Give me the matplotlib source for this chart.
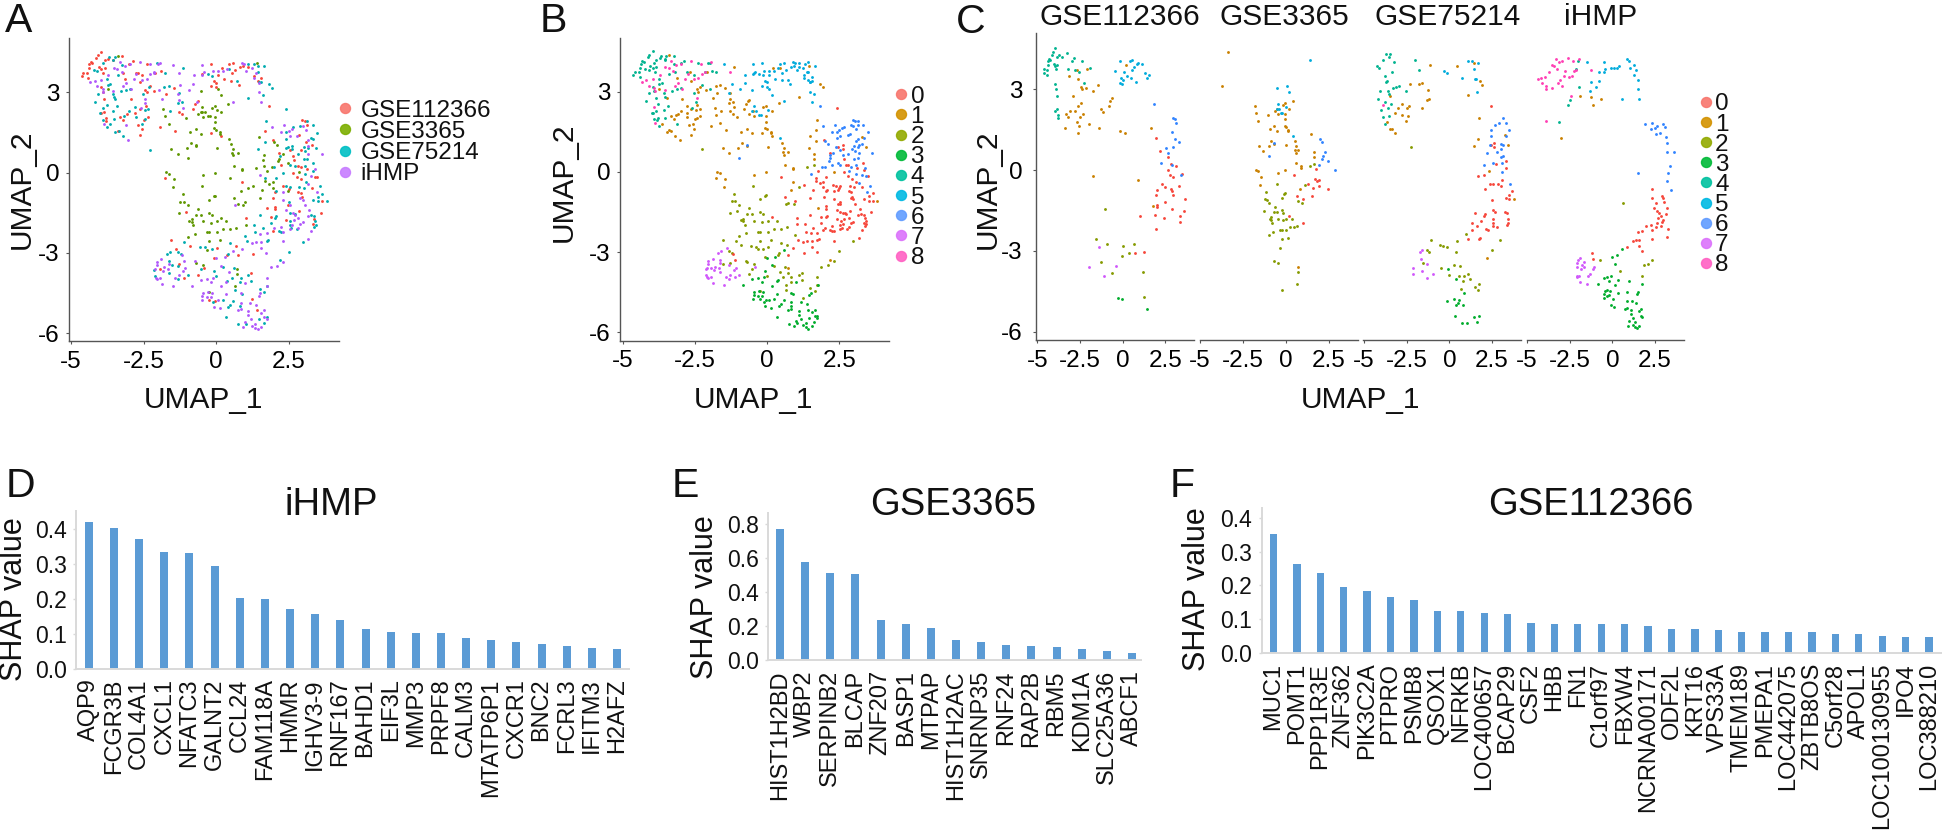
import numpy as np
import matplotlib
matplotlib.use('Agg')
import matplotlib.pyplot as plt

plt.rcParams['font.family'] = ['Liberation Sans', 'DejaVu Sans']

# UMAP points, one list per dataset and cluster
GSE112366_0 = [(1.97,1.21),(2.17,0.72),(2.68,0.47),(2.81,0.24),(3.13,0.14),(2.66,0.00),(2.79,-0.17),(2.93,-0.26),(3.48,-0.16),
    (2.29,-0.50),(2.50,-0.62),(3.30,-0.58),(2.83,-0.71),(2.03,-0.73),(2.91,-0.76),(1.97,-0.94),(2.95,-0.93),(3.65,-1.08),
    (2.46,-1.20),(2.03,-1.29),(2.03,-1.38),(2.87,-1.45),(3.61,-1.51),(1.88,-1.67),(2.42,-1.77),(3.38,-1.72),(3.34,-1.91),
    (1.95,-2.18),(1.04,-1.71),(0.74,-3.09),(1.27,-3.05)]
GSE112366_1 = [(-2.09,3.74),(-2.68,3.72),(-3.13,3.51),(-2.62,3.40),(-1.46,3.15),(-2.44,3.10),(-2.38,3.00),(-2.13,3.06),(-1.74,2.95),
    (-2.93,2.74),(-0.64,2.69),(-0.74,2.55),(-2.42,2.49),(-2.62,2.37),(-0.80,2.37),(-1.27,2.26),(-1.17,2.17),(-2.79,2.21),
    (-3.07,2.18),(-3.32,2.08),(-2.34,2.09),(-3.22,1.98),(-2.48,1.97),(-2.70,1.77),(-1.95,1.72),(-2.54,1.62),(-3.38,1.57),
    (-1.41,1.56),(-2.62,1.39),(-0.16,1.47),(0.16,1.36),(-1.76,-0.22),(0.90,-0.37),(0.21,3.89),(1.68,1.55),(1.76,-1.34)]
GSE112366_2 = [(-1.05,-1.46),(-1.54,-2.54),(-0.90,-2.75),(0.68,-2.75),(0.02,-2.81),(0.37,-3.09),(-0.06,-3.20),(-1.27,-3.42),
    (-0.61,-3.82),(1.21,-3.77),(1.25,-4.72)]
GSE112366_3 = [(-0.25,-4.75),(-0.04,-4.80),(1.41,-5.15)]
GSE112366_4 = [(-3.96,4.52),(-4.08,4.39),(-3.24,4.34),(-4.14,4.29),(-3.71,4.26),(-3.55,4.19),(-3.83,4.20),(-2.87,4.16),(-2.99,4.06),
    (-4.26,4.10),(-4.38,4.05),(-4.32,4.13),(-2.38,4.06),(-4.04,3.95),(-3.83,3.92),(-4.39,3.90),(-3.95,3.87),(-3.89,3.74),
    (-3.20,3.74),(-4.59,3.74),(-4.45,3.73),(-4.63,3.61),(-4.41,3.54),(-2.77,3.72),(-2.54,3.64),(-1.91,3.78),(-2.27,3.25),
    (-3.95,3.18),(-3.91,3.01),(-3.85,2.75),(-3.85,2.27),(-3.95,2.21),(-3.79,2.03),(-3.81,1.93)]
GSE112366_5 = [(-0.18,4.06),(0.57,4.08),(0.45,4.05),(0.92,3.98),(1.11,3.93),(0.82,3.93),(0.66,3.82),(0.53,3.71),(-0.47,3.69),
    (0.06,3.63),(1.29,3.61),(1.54,3.54),(0.27,3.48),(1.43,3.42),(-0.08,3.41),(0.51,3.42),(0.00,3.36),(0.78,3.27),(-0.16,3.22),(-0.02,3.18)]
GSE112366_6 = [(1.82,2.47),(2.97,1.95),(3.05,1.91),(3.14,1.76),(2.87,1.41),(3.09,1.14),(3.30,1.03),(2.54,0.83),(2.93,0.84),
    (2.64,0.62),(2.25,0.27),(2.91,0.19),(3.42,-0.17)]
GSE112366_7 = [(-1.39,-2.86),(-1.95,-3.61),(-0.41,-3.56),(-1.11,-3.93)]

GSE3365_0 = [(0.49,-0.19),(1.76,0.05),(1.70,-0.33),(1.95,-0.36),(1.82,-0.42),(1.27,-0.50),(1.58,-0.67),(1.95,-0.58),(2.46,-0.69),
    (0.63,-0.95),(1.50,-0.97),(0.98,-1.09),(0.16,-1.69),(1.02,-1.96)]
GSE3365_1 = [(-3.38,4.37),(-3.73,3.11),(-1.82,2.39),(-1.76,2.13),(-1.62,1.82),(-1.04,2.04),(-0.49,2.27),(-0.64,2.18),(-0.04,2.48),
    (-0.14,2.43),(0.41,2.58),(0.18,2.28),(-0.04,2.08),(-0.45,2.09),(-0.04,1.88),(-0.06,1.65),(0.00,1.60),(-0.70,1.62),(-0.90,1.51),
    (-0.51,1.44),(0.14,1.50),(0.14,1.45),(-0.86,1.09),(0.04,0.93),(-1.54,0.88),(-1.00,0.90),(-0.70,0.98),(-1.33,0.71),(0.51,1.07),
    (0.57,0.89),(0.55,0.73),(0.74,0.73),(0.57,0.64),(1.48,1.34),(1.64,0.67),(1.62,0.48),(0.61,0.26),(0.90,0.15),(0.90,0.09),
    (-0.45,-0.11),(-0.04,-0.01),(-1.72,0.01),(-1.64,-0.04),(-1.45,-0.25),(-1.50,-0.55),(0.84,-0.69),(0.72,-3.61)]
GSE3365_2 = [(1.39,0.17),(1.64,0.24),(1.11,-0.56),(-1.13,-0.81),(-1.23,-1.09),(-1.11,-1.10),(-0.98,-1.23),(-0.04,-0.86),(-0.08,-0.89),
    (-0.25,-1.03),(-0.49,-0.52),(0.74,-1.16),(0.94,-1.21),(-1.29,-1.52),(-0.64,-1.36),(-0.25,-1.50),(-0.14,-1.59),(-0.70,-1.57),
    (-0.51,-1.57),(-0.84,-1.75),(-0.92,-1.80),(-0.84,-1.85),(-0.78,-1.97),(-0.45,-1.82),(-0.16,-1.87),(0.04,-1.82),(0.35,-1.83),
    (0.23,-2.12),(0.49,-2.13),(0.68,-2.06),(-0.98,-2.40),(-0.74,-2.29),(-0.25,-2.24),(-0.33,-2.24),(0.04,-2.24),(-0.23,-2.57),
    (0.14,-2.53),(-0.31,-2.89),(-0.70,-3.37),(-0.45,-3.44),(0.72,-3.79),(0.64,-4.24),(-0.25,-4.45)]
GSE3365_5 = [(1.41,4.10),(-0.51,3.06),(0.08,3.11),(0.16,2.89),(-0.47,2.45),(0.02,2.33),(-0.51,2.27),(-0.37,2.27),(-0.29,2.12),(-0.20,2.12),(0.43,1.26)]
GSE3365_6 = [(-0.68,1.02),(-0.98,0.53),(2.01,1.16),(2.11,1.04),(2.29,0.69),(2.17,0.52),(2.13,0.42),(2.46,0.35),(1.91,0.20),(2.85,0.02)]

GSE75214_0 = [(2.42,2.39),(2.62,1.00),(2.46,0.94),(2.62,0.87),(3.32,0.35),(2.73,0.24),(3.34,0.06),(2.05,-0.19),(1.70,-0.21),(3.09,-0.37),
    (2.40,-0.51),(2.54,-0.53),(2.87,-0.53),(3.01,-0.58),(2.07,-0.69),(3.65,-0.79),(3.52,-0.92),(3.34,-1.02),(3.52,-1.08),(2.52,-1.12),
    (2.54,-1.50),(2.70,-1.54),(1.50,-1.60),(2.07,-1.64),(2.03,-1.70),(3.26,-1.57),(3.36,-1.61),(2.56,-1.83),(3.42,-1.82),(1.88,-1.90),
    (2.54,-1.98),(3.44,-1.96),(3.38,-2.02),(1.31,-1.96),(2.58,-2.08),(2.77,-2.13),(1.60,-2.08),(2.17,-2.18),(2.25,-2.21),(1.35,-2.23),
    (1.78,-2.52),(1.74,-2.55),(1.07,-2.55)]
GSE75214_1 = [(-1.13,3.92),(0.43,3.88),(1.45,3.98),(1.82,3.30),(1.93,3.17),(-2.32,3.18),(-1.78,3.21),(-1.62,3.25),(-1.27,2.96),(-3.48,2.76),
    (-2.79,2.45),(-1.19,2.63),(-1.31,2.59),(-2.34,2.37),(-2.46,2.32),(-2.99,2.29),(-1.58,2.29),(-3.16,2.12),(-2.77,2.06),(-2.44,2.01),
    (-2.56,1.81),(-3.65,1.80),(-3.34,1.54),(-3.48,1.51),(-3.20,1.36),(1.11,2.80),(1.72,1.93),(1.70,1.15),(1.45,0.89),(3.28,1.29),
    (3.44,0.93),(2.30,-0.02),(3.81,-1.08),(2.19,-3.28)]
GSE75214_2 = [(-2.27,0.85),(0.98,-2.37),(-1.09,-2.60),(0.47,-2.65),(2.99,-2.60),(-0.55,-2.78),(-0.37,-2.80),(-0.14,-2.87),(-1.31,-2.96),
    (-1.21,-3.04),(0.41,-3.05),(2.50,-2.96),(-1.52,-3.44),(0.25,-3.52),(0.62,-3.56),(-0.51,-3.62),(0.00,-3.88),(0.55,-3.93),(0.84,-3.94),
    (1.11,-3.85),(1.21,-4.05),(0.82,-4.10),(1.74,-4.24),(1.50,-4.35),(1.66,-4.45),(0.66,-4.41)]
GSE75214_3 = [(-0.08,-3.69),(0.39,-4.05),(0.88,-4.56),(-0.12,-4.85),(0.25,-4.77),(0.59,-4.81),(0.49,-4.94),(0.41,-5.01),(0.82,-5.00),
    (0.33,-5.41),(1.46,-5.47),(1.74,-5.40),(1.64,-5.63),(0.76,-5.68),(1.02,-5.66)]
GSE75214_4 = [(-3.69,4.32),(-3.50,4.32),(-3.55,4.21),(-3.91,4.09),(-3.24,4.03),(-2.03,4.09),(-4.22,3.85),(-4.10,3.80),(-1.76,3.72),(-3.38,3.66),
    (-3.75,3.48),(-3.65,3.32),(-3.73,3.27),(-2.97,3.14),(-3.11,3.09),(-3.28,3.04),(-4.08,2.94),(-3.57,2.94),(-2.52,2.95),(-3.52,2.81),
    (-4.18,2.65),(-3.77,2.54),(-3.42,2.47),(-3.57,2.30),(-4.00,2.22),(-3.91,1.98),(-3.52,2.00),(-3.75,1.70)]
GSE75214_5 = [(1.11,4.06),(1.31,4.05),(1.66,3.98),(-0.29,3.67),(-0.14,3.62),(1.43,3.75),(0.72,3.43),(1.56,3.40),(1.48,3.37),(1.62,2.90)]
GSE75214_6 = [(3.14,1.92),(3.32,1.76),(2.89,1.75),(2.66,1.69),(2.42,1.50),(3.48,1.49),(2.42,1.25),(3.34,1.25),(3.01,0.97),(3.16,0.93),
    (2.40,0.92),(3.05,0.79),(2.81,0.68),(2.19,0.62),(3.14,0.52),(3.01,0.50),(2.54,0.27),(3.07,0.26),(2.01,0.19),(3.07,-0.06),(3.57,-0.51)]
GSE75214_7 = [(-1.60,-2.97),(-1.70,-3.04),(-1.64,-3.30),(-1.33,-3.48),(-2.13,-3.64),(-1.62,-3.75),(-0.98,-3.84),(-2.11,-3.87),(-1.33,-3.99)]
GSE75214_8 = [(-3.91,2.42)]

IHMP_0 = [(2.32,-0.72),(2.89,-0.97),(2.99,-1.03),(2.32,-1.03),(2.54,-1.21),(3.05,-1.20),(2.42,-1.41),(3.20,-1.39),(2.64,-1.52),(2.73,-1.59),
    (3.16,-1.62),(2.83,-1.71),(2.68,-1.78),(2.99,-1.86),(2.89,-1.93),(2.62,-1.96),(1.99,-2.08),(2.25,-2.04),(2.54,-2.12),(2.83,-2.07),
    (3.28,-2.17),(2.32,-2.22),(1.74,-2.27),(1.52,-2.28),(1.37,-2.58),(1.54,-2.58),(1.23,-2.63),(1.56,-2.81),(1.72,-3.01),(3.18,-2.47),
    (0.88,-2.86),(2.30,-2.57),(-1.17,-3.07),(-1.11,-3.30)]
IHMP_1 = [(-1.88,2.76),(-1.27,2.71),(-1.15,2.43),(-0.66,2.65),(-3.03,1.21)]
IHMP_2 = [(0.64,-1.21),(2.30,-3.33),(2.11,-3.48),(1.88,-3.54),(-0.72,-3.32),(0.45,-3.73),(1.74,-3.94)]
IHMP_3 = [(0.59,-2.92),(-0.02,-3.21),(0.29,-3.17),(0.16,-3.48),(-0.10,-3.95),(-0.33,-3.97),(-0.51,-4.00),(-0.18,-4.10),(0.35,-4.08),(-0.82,-4.23),
    (0.16,-4.26),(1.00,-4.13),(1.76,-4.23),(-0.45,-4.49),(-0.29,-4.47),(-0.14,-4.50),(-0.47,-4.60),(-0.33,-4.66),(-0.18,-4.65),(0.35,-4.55),
    (0.84,-4.52),(1.46,-4.60),(1.52,-4.52),(-0.49,-4.75),(0.06,-4.78),(-0.08,-5.02),(0.12,-5.08),(0.84,-4.87),(1.17,-4.87),(1.37,-4.94),
    (0.74,-5.15),(0.84,-5.12),(1.11,-5.19),(1.66,-5.15),(1.56,-5.24),(1.09,-5.34),(1.66,-5.40),(1.74,-5.46),(1.19,-5.49),(1.00,-5.59),
    (1.33,-5.65),(1.56,-5.77),(0.94,-5.77),(1.23,-5.74),(1.33,-5.81),(1.43,-5.86)]
IHMP_4 = [(-1.99,4.06),(-2.46,2.60),(-2.60,2.40),(-1.97,3.09),(-3.11,1.78),(-2.15,3.75)]
IHMP_5 = [(-1.50,4.03),(-0.49,4.03),(0.88,4.11),(0.96,4.06),(1.25,3.90),(1.04,3.80),(1.39,3.73),(1.29,3.53),(0.37,3.88),(0.25,3.79),(0.08,3.78),
    (-0.10,3.78),(-0.43,3.75),(-0.49,3.66),(-0.76,3.63),(-0.78,3.31),(-1.23,3.28),(-0.94,3.10),(-1.31,2.95),(1.48,3.35),(1.48,3.00),(1.56,2.63),(0.57,2.64)]
IHMP_6 = [(1.93,1.70),(2.34,1.76),(2.60,1.64),(2.50,1.57),(2.25,1.51),(2.54,1.35),(2.79,1.38),(2.99,1.73),(3.09,1.60),(3.16,1.23),(3.18,1.00),
    (3.18,0.69),(3.63,0.69),(3.40,0.14),(3.28,-0.12),(3.18,-0.42),(3.46,-0.74),(1.52,-0.09)]
IHMP_7 = [(-1.89,-3.25),(-2.03,-3.35),(-2.05,-3.46),(-1.64,-3.42),(-1.80,-3.54),(-2.09,-3.61),(-1.66,-3.61),(-1.84,-3.67),(-1.07,-3.58),(-1.15,-3.67),
    (-2.07,-3.93),(-1.95,-3.93),(-2.05,-3.98),(-1.29,-3.85),(-1.41,-3.93),(-1.88,-4.16),(-1.50,-4.24)]
IHMP_8 = [(-3.32,4.13),(-2.62,4.15),(-2.29,4.04),(-1.93,4.11),(-2.97,4.04),(-3.14,4.00),(-3.52,3.92),(-3.40,3.88),(-3.26,3.77),(-3.71,3.63),
    (-2.15,3.73),(-2.27,3.68),(-2.75,3.67),(-2.83,3.49),(-2.38,3.51),(-2.54,3.47),(-3.96,3.47),(-4.18,3.43),(-4.34,3.38),(-4.10,3.23),
    (-3.09,3.33),(-3.20,3.22),(-3.91,3.12),(-3.89,3.02),(-3.55,3.06),(-2.93,3.11),(-2.44,2.75),(-3.87,1.82),(-1.27,3.72)]

DATASET_NAMES = ['GSE112366', 'GSE3365', 'GSE75214', 'iHMP']
CLUSTER_NAMES = ['0', '1', '2', '3', '4', '5', '6', '7', '8']
DATASET_POINTS = [
    {0: GSE112366_0, 1: GSE112366_1, 2: GSE112366_2, 3: GSE112366_3, 4: GSE112366_4, 5: GSE112366_5, 6: GSE112366_6, 7: GSE112366_7},
    {0: GSE3365_0, 1: GSE3365_1, 2: GSE3365_2, 5: GSE3365_5, 6: GSE3365_6},
    {0: GSE75214_0, 1: GSE75214_1, 2: GSE75214_2, 3: GSE75214_3, 4: GSE75214_4, 5: GSE75214_5, 6: GSE75214_6, 7: GSE75214_7, 8: GSE75214_8},
    {0: IHMP_0, 1: IHMP_1, 2: IHMP_2, 3: IHMP_3, 4: IHMP_4, 5: IHMP_5, 6: IHMP_6, 7: IHMP_7, 8: IHMP_8},
]

# SHAP bars
IHMP_GENES = ['AQP9','FCGR3B','COL4A1','CXCL1','NFATC3','GALNT2','CCL24','FAM118A','HMMR','IGHV3-9','RNF167','BAHD1',
              'EIF3L','MMP3','PRPF8','CALM3','MTATP6P1','CXCR1','BNC2','FCRL3','IFITM3','H2AFZ']
IHMP_SHAP = [0.418,0.403,0.370,0.334,0.331,0.293,0.202,0.200,0.172,0.157,0.138,0.113,0.104,0.101,0.101,0.088,0.081,0.075,0.072,0.064,0.058,0.055]
GSE3365_GENES = ['HIST1H2BD','WBP2','SERPINB2','BLCAP','ZNF207','BASP1','MTPAP','HIST1H2AC','SNRNP35','RNF24','RAP2B','RBM5','KDM1A','SLC25A36','ABCF1']
GSE3365_SHAP = [0.771,0.580,0.514,0.506,0.237,0.216,0.188,0.122,0.106,0.090,0.082,0.078,0.069,0.057,0.045]
GSE112366_GENES = ['MUC1','POMT1','PPP1R3E','ZNF362','PIK3C2A','PTPRO','PSMB8','QSOX1','NFRKB','LOC400657','BCAP29','CSF2','HBB','FN1','C1orf97',
                   'FBXW4','NCRNA00171','ODF2L','KRT16','VPS33A','TMEM189','PMEPA1','LOC442075','ZBTB8OS','C5orf28','APOL1','LOC100130955','IPO4','LOC388210']
GSE112366_SHAP = [0.352,0.264,0.237,0.194,0.184,0.166,0.157,0.124,0.124,0.117,0.114,0.089,0.085,0.085,0.085,0.085,0.079,0.072,0.072,0.068,0.063,0.063,0.061,0.061,0.056,0.056,0.051,0.048,0.046]

# colours: dots are small so they read stronger than the legend circles
DATASET_DOT = ['#F6463A', '#5E9600', '#00ABB0', '#B058FB']
DATASET_KEY = ['#F8766D', '#7CAE00', '#00BFC4', '#C77CFF']
CLUSTER_DOT = ['#F6463A', '#C98000', '#859A00', '#00AC2C', '#00B38F', '#00ABDC', '#3083FF', '#D058FB', '#FF3FB4']
CLUSTER_KEY = ['#F8766D', '#D39200', '#93AA00', '#00BA38', '#00C19F', '#00B9E3', '#619CFF', '#DB72FB', '#FF61C3']
BAR_COLOR = '#5B9BD5'

W, H = 1943, 832
PT = 0.72  # points per pixel at dpi 100

fig = plt.figure(figsize=(W / 100, H / 100), dpi=100, facecolor='white')
overlay = fig.add_axes([0, 0, 1, 1], zorder=10)
overlay.set_xlim(0, W)
overlay.set_ylim(H, 0)
overlay.axis('off')


def pixel_axes(left, right, top, bottom, xref, yref):
    """Axes placed by pixel box; xref and yref are two (value, pixel) pairs"""
    ax = fig.add_axes([left / W, 1 - bottom / H, (right - left) / W, (bottom - top) / H])
    (v0, p0), (v1, p1) = xref
    k = (v1 - v0) / (p1 - p0)
    ax.set_xlim(v0 + (left - p0) * k, v0 + (right - p0) * k)
    (v0, p0), (v1, p1) = yref
    k = (v1 - v0) / (p1 - p0)
    ax.set_ylim(v0 + (bottom - p0) * k, v0 + (top - p0) * k)
    ax.spines['top'].set_visible(False)
    ax.spines['right'].set_visible(False)
    ax.patch.set_alpha(0)
    return ax


def style_umap(ax, show_y=True, ypad=7):
    for s in ['left', 'bottom']:
        ax.spines[s].set_color('#555555')
        ax.spines[s].set_linewidth(1.0)
    ax.set_xticks([-5, -2.5, 0, 2.5])
    ax.set_xticklabels(['-5', '-2.5', '0', '2.5'])
    ax.tick_params(axis='x', length=2, width=0.8, color='#555555', labelsize=17.5, pad=5)
    if show_y:
        ax.set_yticks([3, 0, -3, -6])
        ax.set_yticklabels(['3', '0', '-3', '-6'])
        ax.tick_params(axis='y', length=2, width=0.8, color='#555555', labelsize=17.5, pad=ypad * PT)
    else:
        ax.spines['left'].set_visible(False)
        ax.set_yticks([])


def draw_dots(ax, pts, color):
    pts = np.array(pts)
    ax.scatter(pts[:, 0], pts[:, 1], s=4.2, c=color, linewidths=0, clip_on=False)


def legend_keys(x_dot, x_text, y_start, y_step, names, colors):
    for i, (name, c) in enumerate(zip(names, colors)):
        y = y_start + i * y_step
        overlay.scatter([x_dot], [y], s=52, c=c, linewidths=1, edgecolors=c, alpha=0.9)
        overlay.text(x_text, y, name, fontsize=17.5, ha='left', va='center_baseline', color='#111111')


def draw_bars(left, right, top, bottom, first, last, y_zero, y_max, v_max, ticks, genes, values, bar_w):
    ax = pixel_axes(left, right, top, bottom, ((0, first), (len(genes) - 1, last)), ((0, y_zero), (v_max, y_max)))
    step = (last - first) / (len(genes) - 1)
    ax.bar(np.arange(len(genes)), values, width=bar_w / step, color=BAR_COLOR, linewidth=0)
    for s in ['left', 'bottom']:
        ax.spines[s].set_color('#D9D9D9')
        ax.spines[s].set_linewidth(1.4)
    ax.set_xticks(np.arange(len(genes)))
    ax.set_xticklabels(genes, rotation=90, fontsize=17, color='#111111')
    ax.tick_params(axis='x', length=0, pad=7)
    ax.set_yticks(ticks)
    ax.set_yticklabels([f'{t:.1f}' for t in ticks], fontsize=16.5, color='#111111')
    ax.tick_params(axis='y', length=2, width=1, color='#D9D9D9', pad=5)
    return ax


# panel A, coloured by dataset
ax_a = pixel_axes(69.3, 339, 38, 341.3, ((-5, 71), (2.5, 288.7)), ((3, 92.3), (-6, 333)))
style_umap(ax_a)
for i, clusters in enumerate(DATASET_POINTS):
    for pts in clusters.values():
        draw_dots(ax_a, pts, DATASET_DOT[i])
legend_keys(345, 360.5, 108.3, 21.1, DATASET_NAMES, DATASET_KEY)

# panel B, coloured by cluster
ax_b = pixel_axes(620, 889.3, 38, 340.7, ((-5, 622.7), (2.5, 839.3)), ((3, 91.7), (-6, 332.3)))
style_umap(ax_b)
for clusters in DATASET_POINTS:
    for c, pts in clusters.items():
        draw_dots(ax_b, pts, CLUSTER_DOT[c])
legend_keys(901, 910.5, 94.3, 20.17, CLUSTER_NAMES, CLUSTER_KEY)

# panel C, one facet per dataset
facets = [(1036, 1194.3, 1037.3, 1165.3), (1199.7, 1358, 1200, 1328.7), (1363.3, 1520.7, 1364, 1492), (1526.7, 1684.3, 1527, 1655)]
title_x = [1120, 1284, 1448, 1601]
for i, (left, right, p_lo, p_hi) in enumerate(facets):
    ax = pixel_axes(left, right, 33, 340.3, ((-5, p_lo), (2.5, p_hi)), ((3, 89.3), (-6, 331.7)))
    style_umap(ax, show_y=(i == 0), ypad=11)
    for c, pts in DATASET_POINTS[i].items():
        draw_dots(ax, pts, CLUSTER_DOT[c])
    overlay.text(title_x[i], 25, DATASET_NAMES[i], fontsize=21.5, ha='center', va='baseline', color='#111111')
legend_keys(1706, 1715, 102, 20.12, CLUSTER_NAMES, CLUSTER_KEY)

# panels D, E, F
draw_bars(76.3, 629.3, 510.7, 668.7, 88.9, 617, 668.7, 528.7, 0.4, [0, 0.1, 0.2, 0.3, 0.4], IHMP_GENES, IHMP_SHAP, 8)
draw_bars(768.3, 1141.4, 512.7, 660.3, 780, 1132, 660.3, 524.3, 0.8, [0, 0.2, 0.4, 0.6, 0.8], GSE3365_GENES, GSE3365_SHAP, 8)
draw_bars(1262, 1941, 507.7, 653, 1273.5, 1929, 653, 517.7, 0.4, [0, 0.1, 0.2, 0.3, 0.4], GSE112366_GENES, GSE112366_SHAP, 7.3)

# axis labels
for x, y in [(203, 407.7), (753.7, 407.7), (1360.5, 407.7)]:
    overlay.text(x, y, 'UMAP_1', fontsize=21.5, ha='center', va='baseline', color='#111111')
for x, y in [(22, 189), (564, 182), (987.7, 189)]:
    overlay.text(x, y, 'UMAP_2', fontsize=21.5, rotation=90, ha='center', va='center', color='#111111')
for x, y in [(14, 599), (705, 597), (1197.4, 589)]:
    overlay.text(x, y, 'SHAP value', fontsize=22, rotation=90, ha='center', va='center', color='#111111')

# bar titles
for x, name in [(331, 'iHMP'), (953.3, 'GSE3365'), (1591, 'GSE112366')]:
    overlay.text(x, 515, name, fontsize=27.5, ha='center', va='baseline', color='#111111')

# panel letters
for x, y, letter in [(5, 32, 'A'), (540, 32, 'B'), (956, 33, 'C'), (6, 496.7, 'D'), (672, 496.7, 'E'), (1170, 496.7, 'F')]:
    overlay.text(x, y, letter, fontsize=29.5, ha='left', va='baseline', color='#111111')

fig.savefig('out.png', dpi=100, facecolor='white')
